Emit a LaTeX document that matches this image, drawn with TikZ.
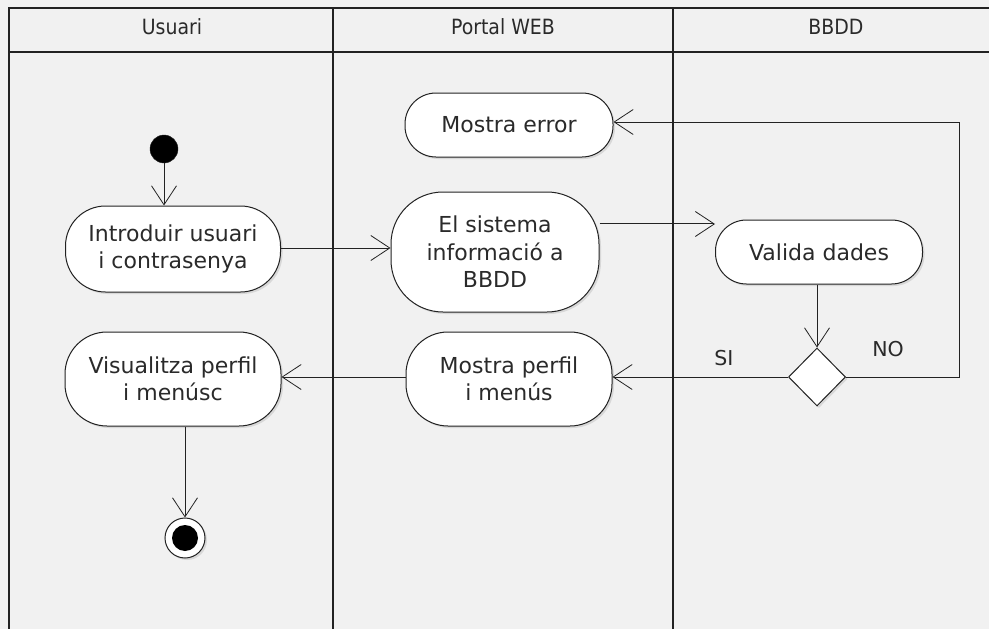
\documentclass[tikz,border=0pt]{standalone}
\usepackage{fontspec}
\setmainfont{DejaVu Sans}
\newfontfamily\headfont{DejaVu Sans Condensed}
\usetikzlibrary{arrows.meta,shapes.geometric,shadows,calc}
\definecolor{bg}{HTML}{F1F1F1}
\definecolor{ink}{HTML}{222222}
\definecolor{txt}{HTML}{2A2A2A}
\tikzset{
  lane/.style={draw=ink,line width=1.6pt},
  act/.style={draw=ink,line width=1pt,fill=white,rounded corners=31pt,align=center,
    text=txt,font=\fontsize{22}{27.5}\selectfont,inner sep=0pt,
    drop shadow={shadow xshift=2pt,shadow yshift=-2pt,opacity=.22}},
  arr/.style={draw=ink,line width=1pt,-{Straight Barb[length=19pt,width=25pt,line width=0.8pt]}},
  head/.style={font=\headfont\fontsize{21}{24}\selectfont,text=txt},
  lbl/.style={font=\fontsize{20.5}{24}\selectfont,text=txt},
  dec/.style={diamond,draw=ink,line width=1pt,fill=white,minimum width=57pt,minimum height=58pt,inner sep=0pt,aspect=1,
    drop shadow={shadow xshift=2pt,shadow yshift=-2pt,opacity=.22}}
}
\begin{document}
\begin{tikzpicture}[x=1pt,y=-1pt]
\fill[bg] (0,0) rectangle (989,629);
\useasboundingbox (0,0) rectangle (989,629);
% swimlanes
\draw[lane] (989,8) -- (9,8) -- (9,629);
\draw[lane] (9,52) -- (989,52);
\draw[lane] (333,8) -- (333,629);
\draw[lane] (673,8) -- (673,629);
\node[head] (h1) at (172,27) {Usuari};
\node[head] (h2) at (503,27) {Portal WEB};
\node[head] (h3) at (836,27) {BBDD};
% nodes
\node[circle,fill=black,draw=ink,minimum size=28pt,inner sep=0pt] (start) at (164,149) {};
\node[act,minimum width=215pt,minimum height=86pt,rounded corners=40pt] (intro) at (173,249) {Introduir usuari\\i contrasenya};
\node[act,minimum width=208pt,minimum height=120pt,rounded corners=52pt] (sist) at (495,252) {El sistema\\informació a\\BBDD};
\node[act,minimum width=208pt,minimum height=64pt] (err) at (509,125) {Mostra error};
\node[act,minimum width=207pt,minimum height=64pt] (val) at (819,252) {Valida dades};
\node[dec] (d) at (817,377) {};
\node[act,minimum width=206pt,minimum height=94pt,rounded corners=42pt] (perf) at (509,379) {Mostra perfil\\i menús};
\node[act,minimum width=216pt,minimum height=94pt,rounded corners=42pt] (vis) at (173,379) {Visualitza perfil\\i menúsc};
\node[circle,draw=ink,line width=1pt,fill=white,minimum size=40pt,inner sep=0pt,
  drop shadow={shadow xshift=2pt,shadow yshift=-2pt,opacity=.22}] (end) at (185,538) {};
\node[circle,fill=black,minimum size=26pt,inner sep=0pt] (endin) at (end.center) {};
% connectors
\draw[arr] (start.south) -- (start.south |- intro.north);
\draw[arr] (intro.east |- 0,248) -- (sist.west |- 0,248);
\draw[arr] (sist.15) -- (sist.15 -| val.west);
\draw[arr] (d.north |- val.south) -- (d.north);
\draw[arr] (d.west) -- (d.west -| perf.east);
\draw[arr] (perf.west |- 0,377) -- (vis.east |- 0,377);
\draw[arr] (end.north |- vis.south) -- (end.north);
\coordinate (c1) at (959,377);
\coordinate (c2) at (959,122);
\draw[arr] (d.east) -- (c1) -- (c2) -- (c2 -| err.east);
\node[lbl] (si) at (724,358) {SI};
\node[lbl] (no) at (888,349) {NO};
\end{tikzpicture}
\end{document}
